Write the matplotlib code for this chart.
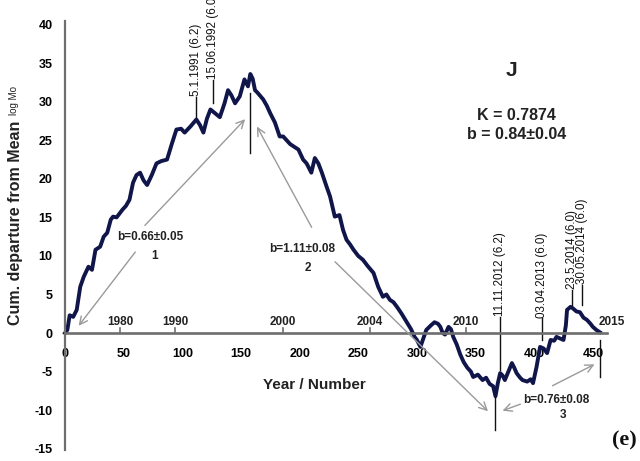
import matplotlib
matplotlib.use("Agg")
import matplotlib.pyplot as plt

# ---- data ----
number = [0, 2, 4, 7, 10, 13, 16, 20, 23, 26, 30, 33, 36, 39, 41, 44, 49, 52, 55, 58,
          61, 64, 67, 70, 74, 78, 82, 87, 91, 95, 99, 102, 107, 112, 115, 118, 121, 124,
          128, 132, 136, 139, 142, 145, 149, 153, 156, 158, 160, 162, 164, 169, 172, 175,
          179, 183, 186, 189, 192, 195, 199, 203, 206, 210, 213, 216, 219, 223, 226, 230,
          234, 237, 240, 243, 246, 250, 254, 258, 263, 267, 271, 274, 277, 280, 283, 287,
          291, 295, 298, 300, 303, 306, 308, 312, 315, 318, 320, 322, 324, 327, 329, 331,
          334, 337, 340, 343, 346, 348, 352, 356, 359, 362, 365, 367, 369, 371, 373, 375,
          378, 381, 383, 385, 388, 390, 394, 397, 399, 402, 405, 408, 411, 414, 417, 419,
          422, 425, 427, 428, 431, 433, 436, 439, 442, 445, 448, 450, 453, 456]
cum_dep = [0.0, 0.4, 2.3, 2.1, 3.0, 6.0, 7.3, 8.6, 8.2, 10.8, 11.2, 12.5, 13.0, 14.7, 15.1,
           15.0, 16.0, 16.5, 17.3, 19.5, 20.5, 20.8, 19.8, 19.2, 20.5, 22.0, 22.3, 22.5,
           24.5, 26.4, 26.5, 26.0, 26.8, 27.7, 27.0, 26.0, 27.8, 29.0, 28.5, 28.0, 29.8,
           31.5, 30.8, 29.8, 30.7, 32.9, 32.0, 33.6, 33.0, 31.5, 31.2, 30.3, 29.5, 28.5,
           27.3, 25.5, 25.5, 25.0, 24.5, 24.2, 23.8, 22.5, 22.0, 20.8, 22.7, 22.0, 20.8,
           19.0, 17.7, 15.1, 15.3, 13.4, 12.1, 11.5, 10.8, 10.0, 9.5, 8.7, 7.8, 6.0, 4.7,
           5.0, 4.3, 4.0, 3.4, 2.5, 1.5, 0.5, -0.5, -0.9, -1.8, -0.5, 0.4, 1.0, 1.4, 1.2,
           0.8, 0.0, -0.2, 0.8, 0.5, -0.5, -1.5, -2.8, -3.8, -4.5, -5.0, -5.7, -5.4, -6.1,
           -5.8, -6.6, -6.9, -8.2, -6.5, -5.2, -5.5, -6.1, -5.0, -3.9, -4.5, -5.2, -5.8,
           -6.1, -6.3, -6.0, -6.5, -4.4, -1.8, -2.0, -2.6, -0.9, -1.0, -0.5, -0.7, -0.9,
           1.0, 3.0, 3.4, 3.2, 2.8, 2.7, 2.0, 1.7, 1.2, 0.8, 0.4, 0.1]

y_ticks = [-15, -10, -5, 0, 5, 10, 15, 20, 25, 30, 35, 40]
y_ticklabels = ["-15", "-10", "-5", "0", "5", "10", "15", "20", "25", "30", "35", "40"]
x_ticks = [0, 50, 100, 150, 200, 250, 300, 350, 400, 450]
years = ["1980", "1990", "2000", "2004", "2010"]
year_pos = [47, 94, 186, 260, 342]
events = ["5.1.1991 (6.2)", "15.06.1992 (6.0)", "11.11.2012 (6.2)",
          "03.04.2013 (6.0)", "23.5.2014 (6.0)", "30.05.2014 (6.0)"]
event_pos = [112, 126, 371, 407, 432, 441]
event_top = [30.6, 32.8, 2.1, 1.9, 5.6, 6.2]
event_bottom = [28.0, 29.8, -4.8, -0.9, 3.6, 3.6]

# ---- figure ----
fig = plt.figure(figsize=(6.4, 4.61), dpi=100)
ax = fig.add_axes([0, 0, 1, 1])
ax.set_xlim(-55.4, 490.2)
ax.set_ylim(-16.6, 43.2)

axis_col = "#6e6e6e"
for s in ["top", "right"]:
    ax.spines[s].set_visible(False)
ax.spines["left"].set_position(("data", 0))
ax.spines["bottom"].set_position(("data", 0))
ax.spines["left"].set_bounds(-15.2, 40.5)
ax.spines["bottom"].set_bounds(0, 462)
ax.spines["left"].set_color(axis_col)
ax.spines["bottom"].set_color(axis_col)
ax.spines["left"].set_linewidth(1.6)
ax.spines["bottom"].set_linewidth(1.9)

ax.set_yticks(y_ticks)
ax.set_yticklabels(y_ticklabels, fontsize=9, fontweight="bold", family="Liberation Sans")
ax.set_xticks(x_ticks)
ax.set_xticklabels([str(v) for v in x_ticks], fontsize=9, fontweight="bold",
                   family="Liberation Sans")
ax.tick_params(axis="y", length=0, pad=9)
ax.tick_params(axis="x", length=0, pad=11)

line_col = "#11164a"
ax.plot(number, cum_dep, color=line_col, lw=2.8, solid_joinstyle="round")

# year labels above axis
for yr, p in zip(years, year_pos):
    ax.plot([p, p], [0, 0.65], color=axis_col, lw=1.2)
    ax.text(p, 0.7, yr, ha="center", va="bottom", fontsize=8.5, fontweight="bold",
            family="Liberation Sans", color="#222222")
ax.text(466, 0.7, "2015", ha="center", va="bottom", fontsize=8.5, fontweight="bold",
        family="Liberation Sans", color="#222222")

# event markers
for lab, p, t, b in zip(events, event_pos, event_top, event_bottom):
    ax.plot([p, p], [b, t], color="#111111", lw=1.0)
    ax.text(p, t + 0.1, lab, rotation=90, ha="center", va="bottom", fontsize=8.4,
            family="Liberation Sans", color="#111111")

# peak / trough / end markers
ax.plot([158, 158], [23.3, 31.1], color="#111111", lw=1.0)
ax.plot([366.6, 366.6], [-12.6, -8.3], color="#111111", lw=1.0)
ax.plot([456, 456], [-5.7, -0.9], color="#111111", lw=1.0)

# regression arrows
arr = dict(arrowstyle="->", color="#9a9a9a", lw=1.0, mutation_scale=14)
ax.annotate("", xy=(10.2, 0.65), xytext=(61.4, 10.8), arrowprops=arr)
ax.annotate("", xy=(155.2, 28.0), xytext=(66.5, 13.7), arrowprops=arr)
ax.annotate("", xy=(162.5, 27.1), xytext=(211.4, 13.4), arrowprops=arr)
ax.annotate("", xy=(362.3, -10.4), xytext=(228.5, 9.5), arrowprops=arr)
ax.annotate("", xy=(370.8, -10.2), xytext=(390.5, -9.1), arrowprops=arr)
ax.annotate("", xy=(453.5, -3.9), xytext=(413.5, -7.0), arrowprops=arr)

txt = dict(fontsize=8.5, fontweight="bold", family="Liberation Sans",
           ha="center", va="center", color="#222222")
ax.text(72.5, 12.4, "b=0.66\u00b10.05", **txt)
ax.text(76.5, 10.0, "1", **txt)
ax.text(202, 10.9, "b=1.11\u00b10.08", **txt)
ax.text(207, 8.5, "2", **txt)
ax.text(418.5, -8.7, "b=0.76\u00b10.08", **txt)
ax.text(424.5, -10.6, "3", **txt)

# headline texts
ax.text(381, 34.0, "J", fontsize=15, fontweight="bold", family="Liberation Sans",
        ha="center", va="center", color="#222222")
ax.text(385, 28.2, "K = 0.7874", fontsize=11.5, fontweight="bold",
        family="Liberation Sans", ha="center", va="center", color="#222222")
ax.text(385, 25.8, "b = 0.84\u00b10.04", fontsize=11.5, fontweight="bold",
        family="Liberation Sans", ha="center", va="center", color="#222222")

# axis titles
ax.text(213, -6.75, "Year / Number", fontsize=11, fontweight="bold",
        family="Liberation Sans", ha="center", va="center", color="#222222")
ax.text(-41.8, 14.3, "Cum. departure from Mean", rotation=90, fontsize=11.5,
        fontweight="bold", family="Liberation Sans", ha="center", va="center",
        color="#222222")
ax.text(-43.5, 30.1, "log Mo", rotation=90, fontsize=7, family="Liberation Sans",
        ha="center", va="center", color="#222222")

ax.text(466.5, -13.9, "(e)", fontsize=16, fontweight="bold", family="Liberation Serif",
        ha="left", va="center", color="#111111")

fig.savefig("out.png", dpi=100)
